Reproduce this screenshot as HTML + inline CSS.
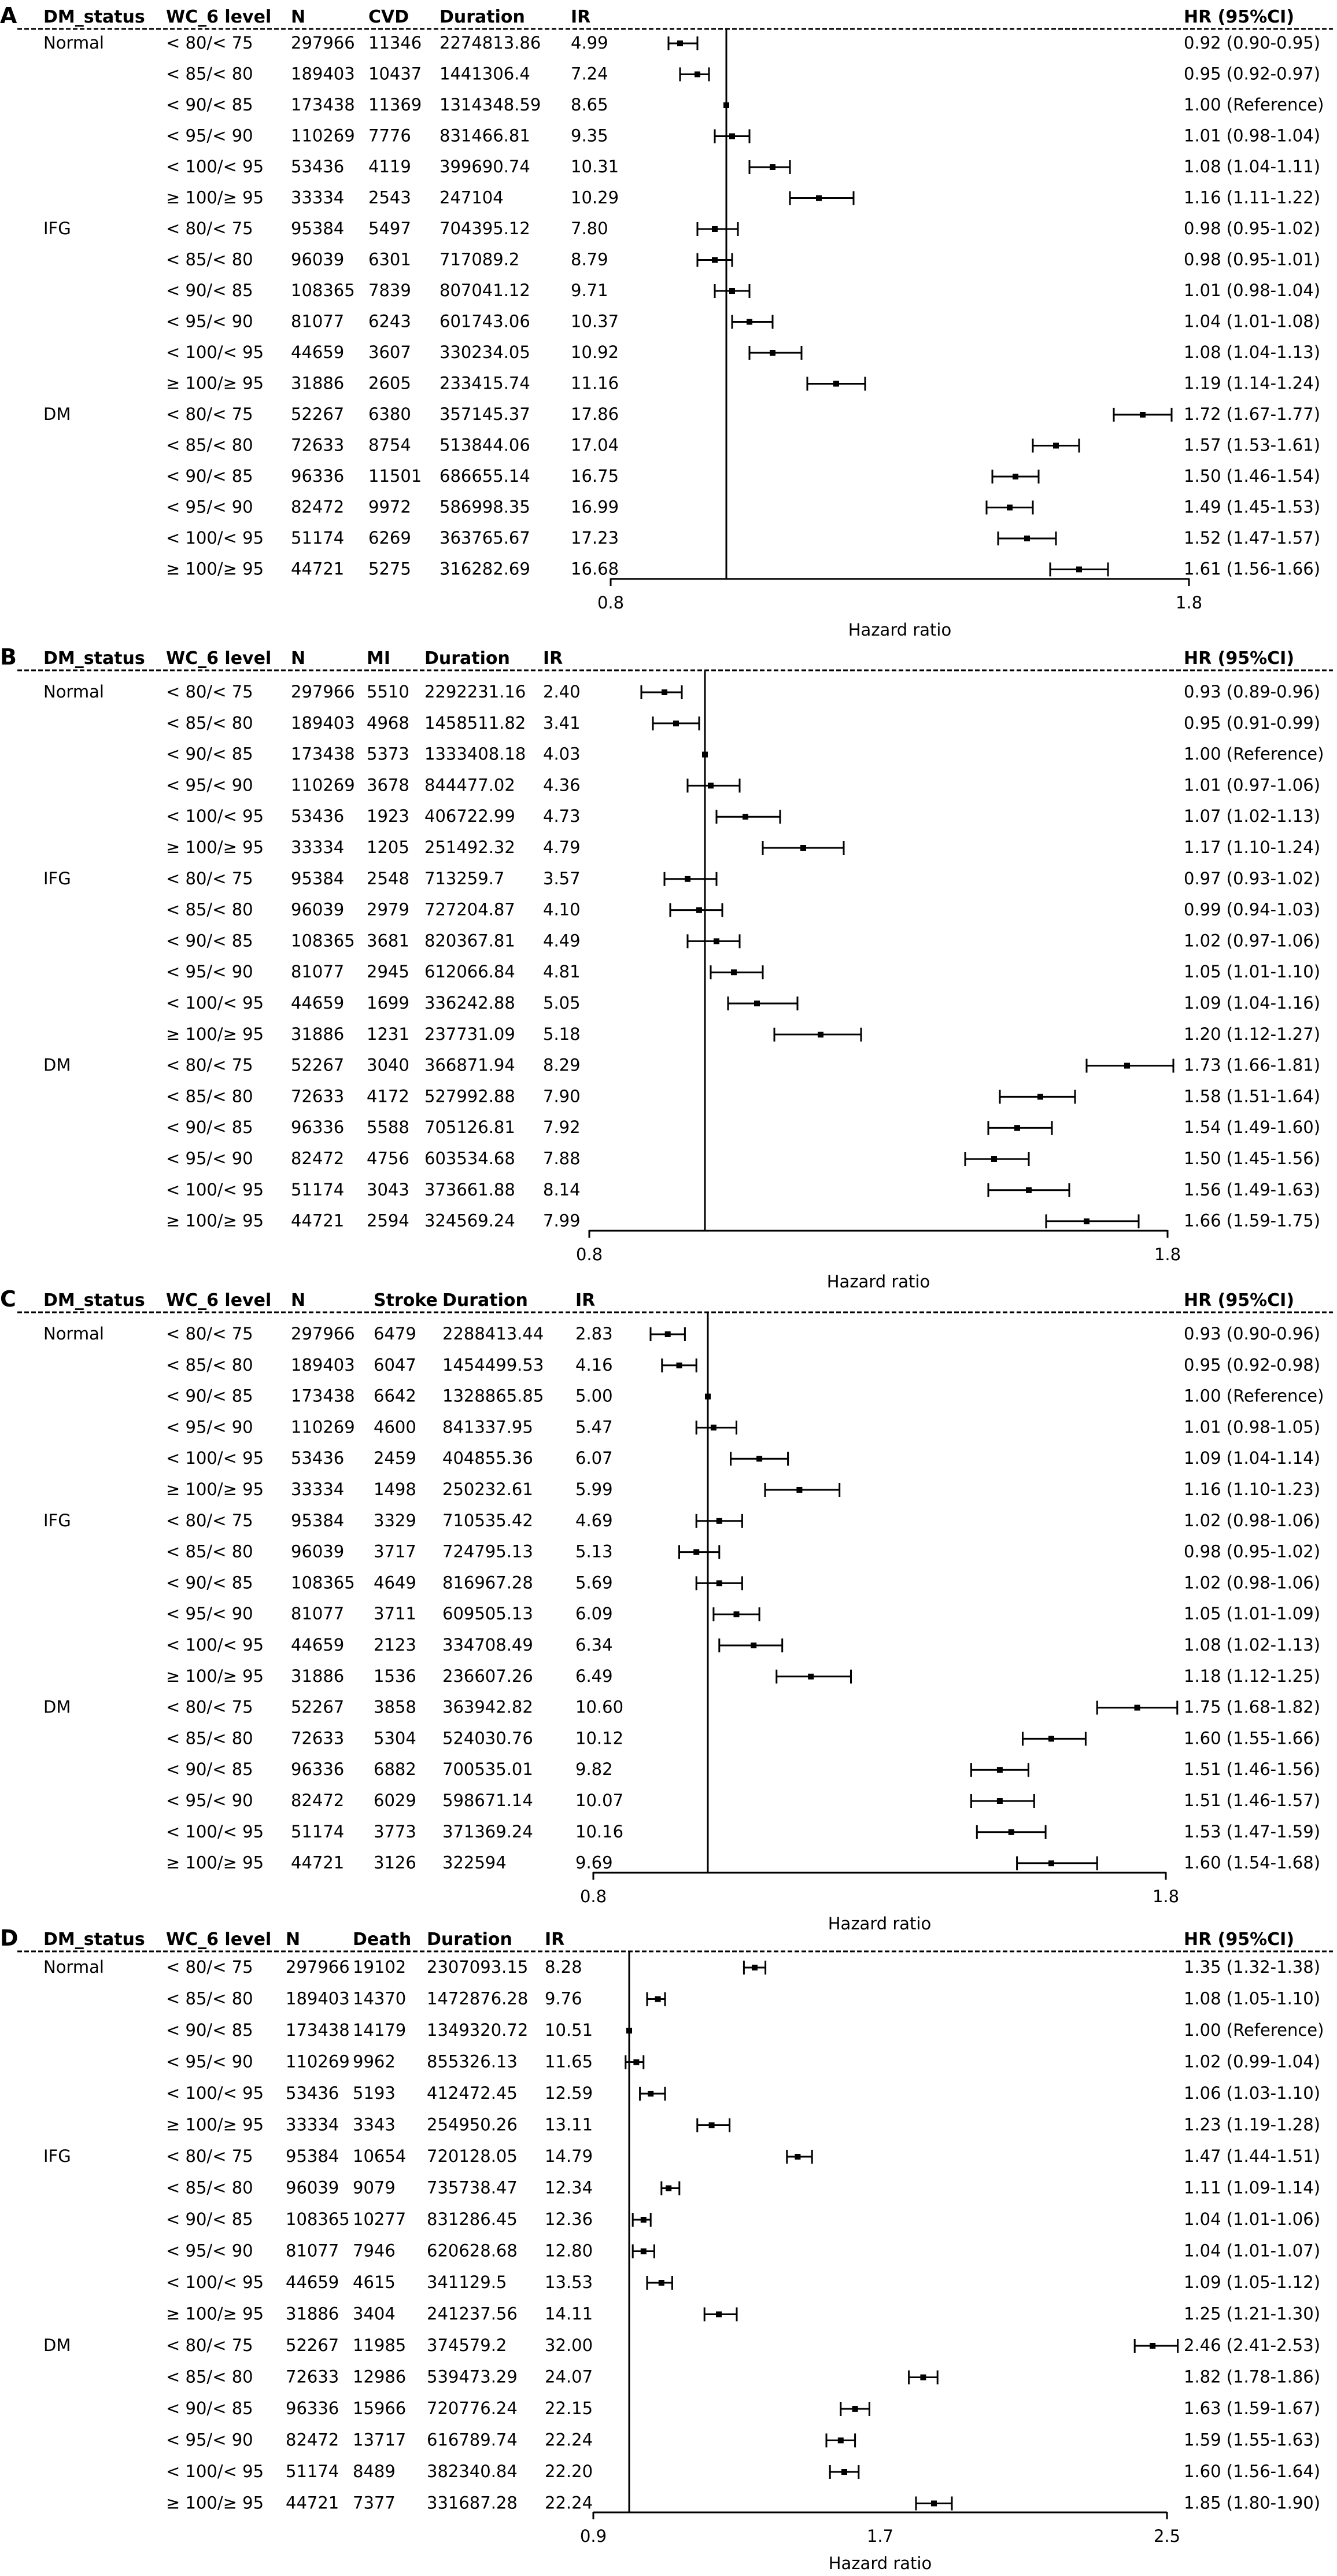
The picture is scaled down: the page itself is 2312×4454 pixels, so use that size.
<!DOCTYPE html>
<html><head><meta charset="utf-8"><style>
html,body{margin:0;padding:0;background:#fff;}
svg{display:block;}
text{font-family:"DejaVu Sans","Liberation Sans",sans-serif;font-size:29px;fill:#000;}
.b{font-weight:bold;font-size:30px;}
.L{font-weight:bold;font-size:38px;}
</style></head><body>
<svg id="s" xmlns="http://www.w3.org/2000/svg" width="2312" height="4454" viewBox="0 0 2312 4454"></svg>
<script>
var WC=["< 80/< 75","< 85/< 80","< 90/< 85","< 95/< 90","< 100/< 95","≥ 100/≥ 95"];
var N=["297966","189403","173438","110269","53436","33334","95384","96039","108365","81077","44659","31886","52267","72633","96336","82472","51174","44721"];
var P=[
{L:"A",d:50,f:75,s:53.5,ax:1001,ev:"CVD",cx:[503,637,760,987],x0:1056,lo:0.8,sc:1000,t:["0.8","1.8"],tv:[0.8,1.8],rows:[
["11346","2274813.86","4.99",0.92,0.90,0.95,"0.92 (0.90-0.95)"],["10437","1441306.4","7.24",0.95,0.92,0.97,"0.95 (0.92-0.97)"],["11369","1314348.59","8.65",1,1,1,"1.00 (Reference)"],["7776","831466.81","9.35",1.01,0.98,1.04,"1.01 (0.98-1.04)"],["4119","399690.74","10.31",1.08,1.04,1.11,"1.08 (1.04-1.11)"],["2543","247104","10.29",1.16,1.11,1.22,"1.16 (1.11-1.22)"],
["5497","704395.12","7.80",0.98,0.95,1.02,"0.98 (0.95-1.02)"],["6301","717089.2","8.79",0.98,0.95,1.01,"0.98 (0.95-1.01)"],["7839","807041.12","9.71",1.01,0.98,1.04,"1.01 (0.98-1.04)"],["6243","601743.06","10.37",1.04,1.01,1.08,"1.04 (1.01-1.08)"],["3607","330234.05","10.92",1.08,1.04,1.13,"1.08 (1.04-1.13)"],["2605","233415.74","11.16",1.19,1.14,1.24,"1.19 (1.14-1.24)"],
["6380","357145.37","17.86",1.72,1.67,1.77,"1.72 (1.67-1.77)"],["8754","513844.06","17.04",1.57,1.53,1.61,"1.57 (1.53-1.61)"],["11501","686655.14","16.75",1.50,1.46,1.54,"1.50 (1.46-1.54)"],["9972","586998.35","16.99",1.49,1.45,1.53,"1.49 (1.45-1.53)"],["6269","363765.67","17.23",1.52,1.47,1.57,"1.52 (1.47-1.57)"],["5275","316282.69","16.68",1.61,1.56,1.66,"1.61 (1.56-1.66)"]]},
{L:"B",d:1159,f:1197,s:53.8,ax:2128,ev:"MI",cx:[503,634,734,939],x0:1019,lo:0.8,sc:1000,t:["0.8","1.8"],tv:[0.8,1.8],rows:[
["5510","2292231.16","2.40",0.93,0.89,0.96,"0.93 (0.89-0.96)"],["4968","1458511.82","3.41",0.95,0.91,0.99,"0.95 (0.91-0.99)"],["5373","1333408.18","4.03",1,1,1,"1.00 (Reference)"],["3678","844477.02","4.36",1.01,0.97,1.06,"1.01 (0.97-1.06)"],["1923","406722.99","4.73",1.07,1.02,1.13,"1.07 (1.02-1.13)"],["1205","251492.32","4.79",1.17,1.10,1.24,"1.17 (1.10-1.24)"],
["2548","713259.7","3.57",0.97,0.93,1.02,"0.97 (0.93-1.02)"],["2979","727204.87","4.10",0.99,0.94,1.03,"0.99 (0.94-1.03)"],["3681","820367.81","4.49",1.02,0.97,1.06,"1.02 (0.97-1.06)"],["2945","612066.84","4.81",1.05,1.01,1.10,"1.05 (1.01-1.10)"],["1699","336242.88","5.05",1.09,1.04,1.16,"1.09 (1.04-1.16)"],["1231","237731.09","5.18",1.20,1.12,1.27,"1.20 (1.12-1.27)"],
["3040","366871.94","8.29",1.73,1.66,1.81,"1.73 (1.66-1.81)"],["4172","527992.88","7.90",1.58,1.51,1.64,"1.58 (1.51-1.64)"],["5588","705126.81","7.92",1.54,1.49,1.60,"1.54 (1.49-1.60)"],["4756","603534.68","7.88",1.50,1.45,1.56,"1.50 (1.45-1.56)"],["3043","373661.88","8.14",1.56,1.49,1.63,"1.56 (1.49-1.63)"],["2594","324569.24","7.99",1.66,1.59,1.75,"1.66 (1.59-1.75)"]]},
{L:"C",d:2269,f:2307,s:53.8,ax:3238,ev:"Stroke",cx:[503,646,765,995],x0:1026,lo:0.8,sc:990,t:["0.8","1.8"],tv:[0.8,1.8],rows:[
["6479","2288413.44","2.83",0.93,0.90,0.96,"0.93 (0.90-0.96)"],["6047","1454499.53","4.16",0.95,0.92,0.98,"0.95 (0.92-0.98)"],["6642","1328865.85","5.00",1,1,1,"1.00 (Reference)"],["4600","841337.95","5.47",1.01,0.98,1.05,"1.01 (0.98-1.05)"],["2459","404855.36","6.07",1.09,1.04,1.14,"1.09 (1.04-1.14)"],["1498","250232.61","5.99",1.16,1.10,1.23,"1.16 (1.10-1.23)"],
["3329","710535.42","4.69",1.02,0.98,1.06,"1.02 (0.98-1.06)"],["3717","724795.13","5.13",0.98,0.95,1.02,"0.98 (0.95-1.02)"],["4649","816967.28","5.69",1.02,0.98,1.06,"1.02 (0.98-1.06)"],["3711","609505.13","6.09",1.05,1.01,1.09,"1.05 (1.01-1.09)"],["2123","334708.49","6.34",1.08,1.02,1.13,"1.08 (1.02-1.13)"],["1536","236607.26","6.49",1.18,1.12,1.25,"1.18 (1.12-1.25)"],
["3858","363942.82","10.60",1.75,1.68,1.82,"1.75 (1.68-1.82)"],["5304","524030.76","10.12",1.60,1.55,1.66,"1.60 (1.55-1.66)"],["6882","700535.01","9.82",1.51,1.46,1.56,"1.51 (1.46-1.56)"],["6029","598671.14","10.07",1.51,1.46,1.57,"1.51 (1.46-1.57)"],["3773","371369.24","10.16",1.53,1.47,1.59,"1.53 (1.47-1.59)"],["3126","322594","9.69",1.60,1.54,1.68,"1.60 (1.54-1.68)"]]},
{L:"D",d:3374,f:3402,s:54.5,ax:4344,ev:"Death",cx:[494,610,738,942],x0:1026,lo:0.9,sc:620,t:["0.9","1.7","2.5"],tv:[0.9,1.7,2.5],rows:[
["19102","2307093.15","8.28",1.35,1.32,1.38,"1.35 (1.32-1.38)"],["14370","1472876.28","9.76",1.08,1.05,1.10,"1.08 (1.05-1.10)"],["14179","1349320.72","10.51",1,1,1,"1.00 (Reference)"],["9962","855326.13","11.65",1.02,0.99,1.04,"1.02 (0.99-1.04)"],["5193","412472.45","12.59",1.06,1.03,1.10,"1.06 (1.03-1.10)"],["3343","254950.26","13.11",1.23,1.19,1.28,"1.23 (1.19-1.28)"],
["10654","720128.05","14.79",1.47,1.44,1.51,"1.47 (1.44-1.51)"],["9079","735738.47","12.34",1.11,1.09,1.14,"1.11 (1.09-1.14)"],["10277","831286.45","12.36",1.04,1.01,1.06,"1.04 (1.01-1.06)"],["7946","620628.68","12.80",1.04,1.01,1.07,"1.04 (1.01-1.07)"],["4615","341129.5","13.53",1.09,1.05,1.12,"1.09 (1.05-1.12)"],["3404","241237.56","14.11",1.25,1.21,1.30,"1.25 (1.21-1.30)"],
["11985","374579.2","32.00",2.46,2.41,2.53,"2.46 (2.41-2.53)"],["12986","539473.29","24.07",1.82,1.78,1.86,"1.82 (1.78-1.86)"],["15966","720776.24","22.15",1.63,1.59,1.67,"1.63 (1.59-1.67)"],["13717","616789.74","22.24",1.59,1.55,1.63,"1.59 (1.55-1.63)"],["8489","382340.84","22.20",1.60,1.56,1.64,"1.60 (1.56-1.64)"],["7377","331687.28","22.24",1.85,1.80,1.90,"1.85 (1.80-1.90)"]]}
];
var h=[];
function esc(s){return s.replace(/&/g,"&amp;").replace(/</g,"&lt;").replace(/>/g,"&gt;");}
function T(x,y,s,c,a){h.push('<text x="'+x+'" y="'+y+'"'+(c?' class="'+c+'"':'')+(a?' text-anchor="'+a+'"':'')+'>'+esc(s)+'</text>');}
function Ln(x1,y1,x2,y2,w,d){h.push('<line x1="'+x1+'" y1="'+y1+'" x2="'+x2+'" y2="'+y2+'" stroke="#000" stroke-width="'+(w||3)+'"'+(d?' stroke-dasharray="'+d+'"':'')+'/>');}
P.forEach(function(p){
 var X=function(v){return p.x0+(v-p.lo)*p.sc;};
 var hb=p.d-11;
 T(0,hb+1,p.L,"L");
 T(75,hb,"DM_status","b");T(287,hb,"WC_6 level","b");T(p.cx[0],hb,"N","b");
 T(p.cx[1],hb,p.ev,"b");T(p.cx[2],hb,"Duration","b");T(p.cx[3],hb,"IR","b");T(2047,hb,"HR (95%CI)","b");
 Ln(30,p.d,2305,p.d,3,"8 4");
 var ax=p.ax, xr=X(1.0), xe=X(p.tv[p.tv.length-1]);
 Ln(xr,p.d+1,xr,ax,3);
 Ln(p.x0,ax,xe,ax,3);
 Ln(p.x0,ax-1,p.x0,ax+12,3);Ln(xe,ax-1,xe,ax+12,3);
 p.t.forEach(function(s,i){T(X(p.tv[i]),ax+51,s,null,"middle");});
 T((p.x0+xe)/2,ax+98,"Hazard ratio",null,"middle");
 p.rows.forEach(function(r,i){
  var c=p.f+i*p.s, b=c+9;
  if(i%6==0)T(75,b,["Normal","IFG","DM"][i/6]);
  T(287,b,WC[i%6]);T(p.cx[0],b,N[i]);T(p.cx[1],b,r[0]);T(p.cx[2],b,r[1]);T(p.cx[3],b,r[2]);T(2047,b,r[6]);
  var a=X(r[4]),z=X(r[5]),m=X(r[3]);
  if(z-a>1){Ln(a,c,z,c,3);Ln(a,c-12,a,c+12,3);Ln(z,c-12,z,c+12,3);}
  h.push('<rect x="'+(m-5)+'" y="'+(c-5)+'" width="10" height="10" fill="#000"/>');
 });
});
document.getElementById("s").innerHTML=h.join("");
</script>
</body></html>
